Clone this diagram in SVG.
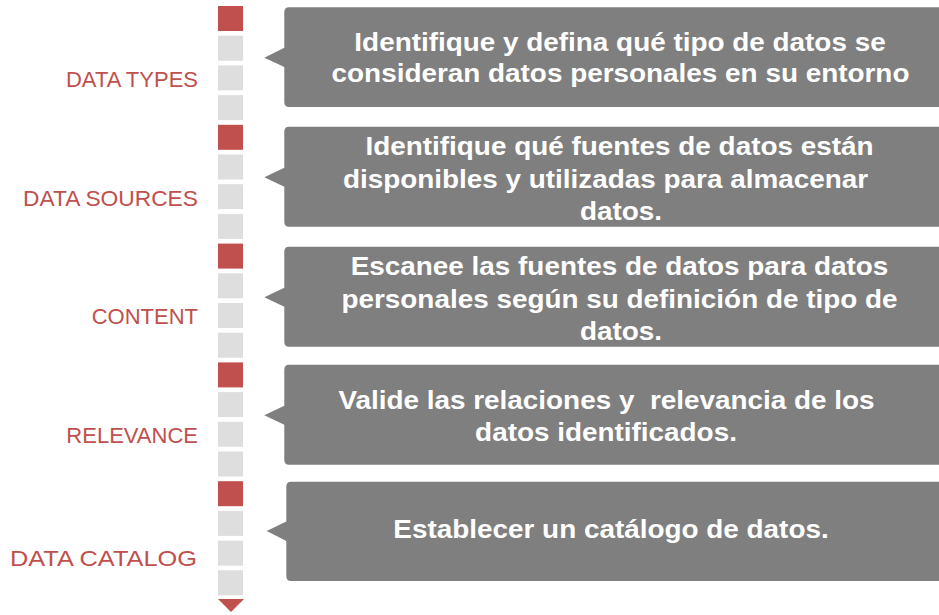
<svg xmlns="http://www.w3.org/2000/svg" width="939" height="615" viewBox="0 0 939 615">
<style>
.lbl{font-family:"Liberation Sans",Arial,sans-serif;font-size:22px;fill:#C0504D;text-anchor:end}
.box{fill:#7F7F7F}
.txt{font-family:"Liberation Sans",Arial,sans-serif;font-size:25px;font-weight:bold;fill:#FFFFFF;text-anchor:middle;white-space:pre}
.sq{fill:#DEDEDE}
.sqr{fill:#C0504D}
</style>
<rect width="939" height="615" fill="#FFFFFF"/>
<g id="timeline">
<rect class="sqr" x="218" y="6" width="25" height="25"/>
<rect class="sq" x="218" y="35.7" width="25" height="25"/>
<rect class="sq" x="218" y="65.4" width="25" height="25"/>
<rect class="sq" x="218" y="95.1" width="25" height="25"/>
<rect class="sqr" x="218" y="124.8" width="25" height="25"/>
<rect class="sq" x="218" y="154.5" width="25" height="25"/>
<rect class="sq" x="218" y="184.2" width="25" height="25"/>
<rect class="sq" x="218" y="213.9" width="25" height="25"/>
<rect class="sqr" x="218" y="243.6" width="25" height="25"/>
<rect class="sq" x="218" y="273.3" width="25" height="25"/>
<rect class="sq" x="218" y="303" width="25" height="25"/>
<rect class="sq" x="218" y="332.7" width="25" height="25"/>
<rect class="sqr" x="218" y="362.4" width="25" height="25"/>
<rect class="sq" x="218" y="392.1" width="25" height="25"/>
<rect class="sq" x="218" y="421.8" width="25" height="25"/>
<rect class="sq" x="218" y="451.5" width="25" height="25"/>
<rect class="sqr" x="218" y="481.2" width="25" height="25"/>
<rect class="sq" x="218" y="510.9" width="25" height="25"/>
<rect class="sq" x="218" y="540.6" width="25" height="25"/>
<rect class="sq" x="218" y="570.3" width="25" height="25"/>
<polygon class="sqr" points="218,599 244,599 231,612"/>
</g>
<g id="label-data-types"><text class="lbl" x="198" y="87">DATA TYPES</text></g>
<g id="label-data-sources"><text class="lbl" x="198" y="206" textLength="175" lengthAdjust="spacingAndGlyphs">DATA SOURCES</text></g>
<g id="label-content"><text class="lbl" x="198" y="324">CONTENT</text></g>
<g id="label-relevance"><text class="lbl" x="198" y="443">RELEVANCE</text></g>
<g id="label-data-catalog"><text class="lbl" x="197" y="566" textLength="187" lengthAdjust="spacingAndGlyphs">DATA CATALOG</text></g>
<g id="box1">
<path class="box" d="M289,7.3 H945 V107 H289 Q284.3,107 284.3,102 V67 L264.3,57.7 L284.3,47.7 V12.3 Q284.3,7.3 289,7.3 Z"/>
<text class="txt" transform="translate(620,51) scale(1.116,1)" x="0" y="0">Identifique y defina qué tipo de datos se</text>
<text class="txt" transform="translate(620.5,82) scale(1.116,1)" x="0" y="0">consideran datos personales en su entorno</text>
</g>
<g id="box2">
<path class="box" d="M289,126.7 H945 V226.7 H289 Q284.3,226.7 284.3,221.7 V186.7 L264.3,177.3 L284.3,167.7 V131.7 Q284.3,126.7 289,126.7 Z"/>
<text class="txt" transform="translate(619.5,155) scale(1.116,1)" x="0" y="0">Identifique qué fuentes de datos están</text>
<text class="txt" transform="translate(605.5,188) scale(1.116,1)" x="0" y="0">disponibles y utilizadas para almacenar</text>
<text class="txt" transform="translate(621,220) scale(1.116,1)" x="0" y="0">datos.</text>
</g>
<g id="box3">
<path class="box" d="M289,246.7 H945 V346.7 H289 Q284.3,346.7 284.3,341.7 V306.7 L264.3,297.3 L284.3,287.7 V251.7 Q284.3,246.7 289,246.7 Z"/>
<text class="txt" transform="translate(619.5,275) scale(1.116,1)" x="0" y="0">Escanee las fuentes de datos para datos</text>
<text class="txt" transform="translate(619.5,308) scale(1.116,1)" x="0" y="0">personales según su definición de tipo de</text>
<text class="txt" transform="translate(621,340) scale(1.116,1)" x="0" y="0">datos.</text>
</g>
<g id="box4">
<path class="box" d="M289,364.7 H945 V464.7 H289 Q284.3,464.7 284.3,459.7 V424.7 L264.3,415.3 L284.3,405.7 V369.7 Q284.3,364.7 289,364.7 Z"/>
<text class="txt" transform="translate(606.5,409) scale(1.116,1)" x="0" y="0">Valide las relaciones y  relevancia de los</text>
<text class="txt" transform="translate(606,441) scale(1.116,1)" x="0" y="0">datos identificados.</text>
</g>
<g id="box5">
<path class="box" d="M291,481.7 H945 V581 H291 Q286.3,581 286.3,576 V541 L266.7,531 L286.3,521.5 V486.7 Q286.3,481.7 291,481.7 Z"/>
<text class="txt" transform="translate(611,538) scale(1.116,1)" x="0" y="0">Establecer un catálogo de datos.</text>
</g>
<g id="connectors"/>
</svg>
